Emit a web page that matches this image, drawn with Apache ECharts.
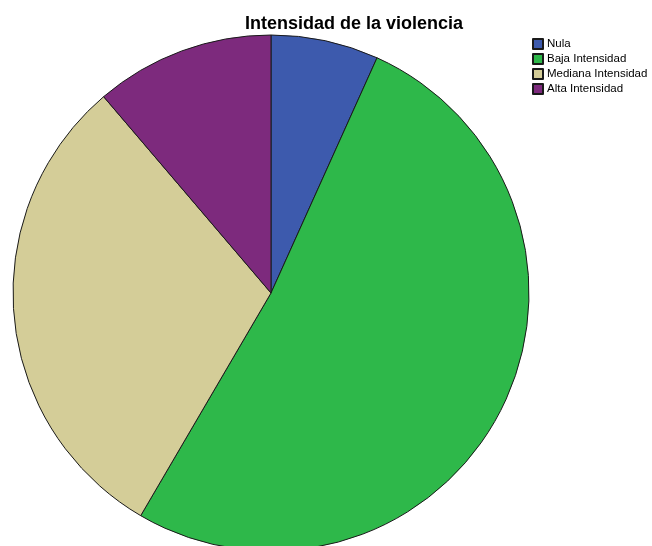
<!DOCTYPE html>
<html>
<head>
<meta charset="utf-8">
<script src="https://cdn.jsdelivr.net/npm/echarts@6/dist/echarts.min.js"></script>
<style>
  html, body { margin: 0; padding: 0; background: #fff; }
  #chart { width: 652px; height: 546px; }
</style>
</head>
<body>
<div id="chart"></div>
<script>
// Intensity categories and their counts
const categories = ['Nula', 'Baja Intensidad', 'Mediana Intensidad', 'Alta Intensidad'];
const counts = [6, 46, 27, 10];
const colors = ['#3d5aad', '#2eb84a', '#d4cd98', '#7d2a7d'];
const titleText = 'Intensidad de la violencia';

const chart = echarts.init(document.getElementById('chart'), null, { renderer: 'canvas' });

chart.setOption({
  animation: false,
  backgroundColor: '#ffffff',
  title: {
    text: titleText,
    left: 349,
    top: 10,
    textAlign: 'center',
    textStyle: {
      fontFamily: 'Liberation Sans, Arial, sans-serif',
      fontSize: 18,
      fontWeight: 'bold',
      color: '#000'
    }
  },
  legend: {
    orient: 'vertical',
    left: 532,
    top: 38,
    padding: 0,
    itemWidth: 10,
    itemHeight: 10,
    itemGap: 3,
    icon: 'rect',
    selectedMode: false,
    data: categories,
    textStyle: {
      fontFamily: 'Liberation Sans, Arial, sans-serif',
      fontSize: 11.5,
      color: '#000',
      padding: [0, 0, 0, -1]
    }
  },
  series: [{
    type: 'pie',
    center: [271, 293],
    radius: [0, 258],
    startAngle: 90,
    clockwise: true,
    silent: true,
    label: { show: false },
    labelLine: { show: false },
    itemStyle: { borderColor: '#1a1a1a', borderWidth: 1 },
    data: categories.map((name, i) => ({
      name: name,
      value: counts[i],
      itemStyle: { color: colors[i] }
    }))
  }]
});
</script>
</body>
</html>
